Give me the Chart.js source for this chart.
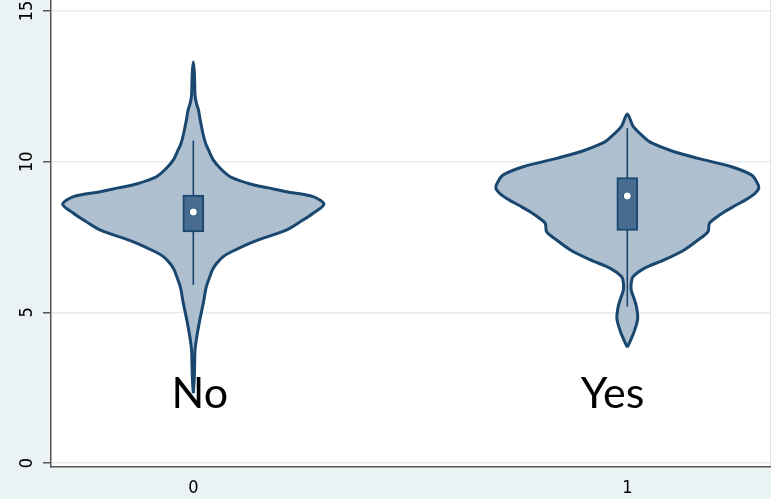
<!DOCTYPE html>
<html>
<head>
<meta charset="utf-8">
<script src="https://cdn.jsdelivr.net/npm/chart.js@4.4.1/dist/chart.umd.min.js"></script>
<style>
  html, body { margin: 0; padding: 0; background: #EAF2F3; }
  #wrap { width: 771px; height: 499px; }
</style>
</head>
<body>
<div id="wrap"><canvas id="c" width="771" height="499"></canvas></div>
<script>
// Groups and their positions on the x axis
const groups = ['No', 'Yes'];
const groupPos = [0, 1];

// Density outline of each group: value grid (bottom to top) and half-width at each value
const noValues    = [2.32, 2.75, 3.25, 3.75, 4.19, 4.75, 5.30, 5.85, 6.18, 6.41, 6.63, 6.85, 7.01, 7.34, 7.73, 8.03, 8.29, 8.59, 8.84, 9.00, 9.13, 9.26, 9.50, 9.78, 10.06, 10.39, 10.62, 10.95, 11.38, 11.71, 11.95, 12.21, 12.71, 13.04, 13.31];
const noHalfWidth = [0.000, 0.002, 0.003, 0.004, 0.008, 0.015, 0.023, 0.030, 0.038, 0.044, 0.054, 0.069, 0.088, 0.138, 0.214, 0.249, 0.276, 0.301, 0.276, 0.214, 0.173, 0.131, 0.085, 0.062, 0.046, 0.035, 0.028, 0.022, 0.016, 0.012, 0.007, 0.004, 0.003, 0.002, 0.000];

const yesValues    = [3.84, 4.12, 4.41, 4.80, 5.19, 5.48, 5.74, 5.97, 6.18, 6.46, 6.74, 7.07, 7.40, 7.68, 7.95, 8.13, 8.34, 8.56, 8.78, 8.96, 9.14, 9.36, 9.56, 9.83, 10.11, 10.33, 10.63, 10.83, 11.16, 11.58];
const yesHalfWidth = [0.000, 0.009, 0.017, 0.024, 0.021, 0.015, 0.009, 0.009, 0.013, 0.039, 0.085, 0.131, 0.163, 0.186, 0.189, 0.203, 0.224, 0.251, 0.278, 0.295, 0.303, 0.297, 0.286, 0.240, 0.163, 0.108, 0.055, 0.037, 0.014, 0.000];

// Box plot summaries per group
const q1          = [7.67, 7.72];
const median      = [8.33, 8.86];
const q3          = [8.89, 9.47];
const whiskerLow  = [5.91, 5.19];
const whiskerHigh = [10.70, 11.11];

// Axis ticks
const yTicks = [0, 5, 10, 15];
const xTicks = [0, 1];

// Group caption anchors (data coordinates)
const captionX = [0.015, 0.966];
const captionY = [1.83, 1.83];

const NAVY = '#1A476F';
const VIOLIN_FILL = '#AEBFCF';
const BOX_FILL = '#486C90';
const AXIS = '#555555';
const GRID = '#E4ECF0';
const tickFont = { family: "'Liberation Sans Narrow', 'DejaVu Sans Condensed', 'Liberation Sans', sans-serif", size: 18 };

function outline(center, values, half) {
  const left = values.map((v, i) => ({ x: center - half[i], y: v }));
  const right = values.map((v, i) => ({ x: center + half[i], y: v })).reverse();
  return left.concat(right.slice(1));
}

const violinSets = [[noValues, noHalfWidth], [yesValues, yesHalfWidth]].map(([vals, half], i) => ({
  type: 'scatter',
  data: outline(groupPos[i], vals, half),
  showLine: true,
  fill: 'shape',
  backgroundColor: VIOLIN_FILL,
  borderColor: NAVY,
  borderWidth: 3,
  pointRadius: 0,
  tension: 0.3,
  order: 5
}));

const whiskerSets = groupPos.map((x, i) => ({
  type: 'scatter',
  data: [{ x, y: whiskerLow[i] }, { x, y: whiskerHigh[i] }],
  showLine: true,
  borderColor: NAVY,
  borderWidth: 1.6,
  pointRadius: 0,
  order: 4
}));

const boxSet = {
  type: 'bar',
  data: groupPos.map((x, i) => ({ x, y: [q1[i], q3[i]] })),
  backgroundColor: BOX_FILL,
  borderColor: NAVY,
  borderWidth: 2,
  borderSkipped: false,
  barThickness: 21,
  order: 2
};

const medianSet = {
  type: 'scatter',
  data: groupPos.map((x, i) => ({ x, y: median[i] })),
  pointRadius: 4,
  pointBackgroundColor: '#FFFFFF',
  pointBorderColor: '#2E5A84',
  pointBorderWidth: 1.2,
  order: 1
};

const panelBackground = {
  id: 'panelBackground',
  beforeDraw(chart) {
    const { ctx, chartArea: a } = chart;
    ctx.save();
    ctx.fillStyle = '#EAF2F3';
    ctx.fillRect(0, 0, chart.width, chart.height);
    ctx.fillStyle = '#FFFFFF';
    ctx.fillRect(a.left, a.top, a.right - a.left, a.bottom - a.top);
    ctx.strokeStyle = '#DCE5EA';
    ctx.lineWidth = 1;
    ctx.beginPath();
    ctx.moveTo(a.right + 0.5, a.top);
    ctx.lineTo(a.right + 0.5, a.bottom);
    ctx.stroke();
    ctx.restore();
  }
};

const groupCaptions = {
  id: 'groupCaptions',
  beforeDatasetsDraw(chart) {
    const { ctx, scales: { x, y } } = chart;
    ctx.save();
    ctx.fillStyle = '#000000';
    ctx.font = "43px Lato, 'Open Sans', sans-serif";
    ctx.textAlign = 'center';
    ctx.textBaseline = 'alphabetic';
    groups.forEach((g, i) => {
      ctx.fillText(g, x.getPixelForValue(captionX[i]), y.getPixelForValue(captionY[i]));
    });
    ctx.restore();
  }
};

new Chart(document.getElementById('c'), {
  type: 'scatter',
  data: { datasets: [...violinSets, ...whiskerSets, boxSet, medianSet] },
  options: {
    responsive: false,
    devicePixelRatio: 1,
    animation: false,
    layout: { autoPadding: false, padding: { top: 0, left: 0, right: 1, bottom: 0 } },
    plugins: { legend: { display: false }, tooltip: { enabled: false } },
    scales: {
      x: {
        type: 'linear',
        offset: false,
        min: -0.3279,
        max: 1.3288,
        afterBuildTicks: s => { s.ticks = xTicks.map(v => ({ value: v })); },
        afterFit: s => { s.height = 32; s.paddingLeft = 0; s.paddingRight = 0; },
        grid: { display: false, drawTicks: false, offset: false },
        border: { display: true, color: AXIS, width: 1.5 },
        ticks: { color: '#000', font: tickFont, padding: 11, autoSkip: false, callback: v => String(v) }
      },
      y: {
        type: 'linear',
        min: -0.133,
        max: 15.365,
        afterBuildTicks: s => { s.ticks = yTicks.map(v => ({ value: v })); },
        afterFit: s => { s.width = 51; s.paddingTop = 0; s.paddingBottom = 0; },
        grid: { color: GRID, lineWidth: 1.5, drawTicks: true, tickLength: 8, tickColor: AXIS, tickWidth: 1.5 },
        border: { display: true, color: AXIS, width: 1.5 },
        ticks: { color: '#000', font: tickFont, padding: 5, minRotation: 90, maxRotation: 90, crossAlign: 'center', autoSkip: false, callback: v => String(v) }
      }
    }
  },
  plugins: [panelBackground, groupCaptions]
});
</script>
</body>
</html>
